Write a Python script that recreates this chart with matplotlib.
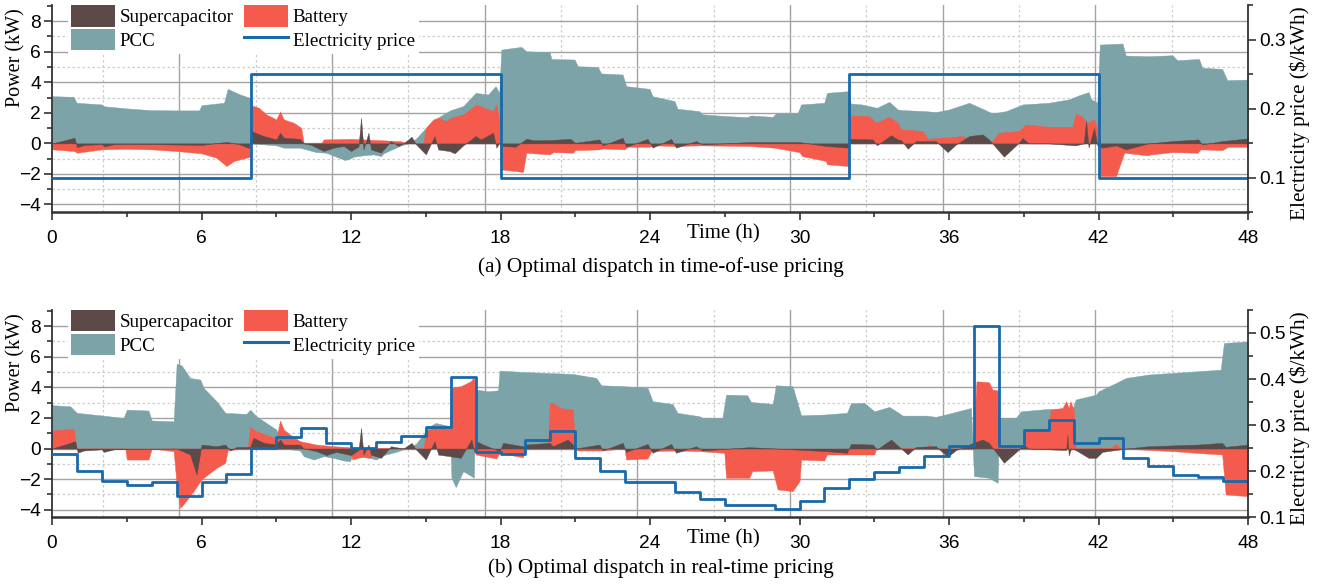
import numpy as np
import matplotlib
matplotlib.use('Agg')
import matplotlib.pyplot as plt
from matplotlib.ticker import MultipleLocator, FixedLocator
from matplotlib.patches import Patch
from matplotlib.lines import Line2D

# ---- (a) time-of-use pricing: (hour, kW) breakpoints ----
tou_pcc = [(0, 3.09), (0.87, 3.05), (0.98, 2.66), (2.0, 2.55), (2.05, 2.44), (3.0, 2.29),
           (3.94, 2.18), (5.1, 2.16), (5.9, 2.16), (6.0, 2.5), (6.9, 2.66), (7.05, 3.57),
           (7.55, 3.2), (7.95, 2.98), (8.0, 0.0), (9.0, -0.13), (9.3, -0.28), (9.95, -0.28),
           (10.6, -0.57), (11.0, -0.61), (11.4, -0.87), (11.75, -1.09), (11.95, -1.0),
           (12.1, -0.87), (12.5, -0.78), (12.9, -0.72), (13.2, -0.83), (13.3, -0.65),
           (13.8, -0.28), (14.0, -0.13), (14.3, 0.0), (14.6, 0.3), (15.0, 1.0), (15.5, 1.7),
           (15.8, 2.0), (16.0, 2.18), (16.5, 2.44), (17.0, 3.31), (17.5, 3.2), (17.8, 3.75),
           (17.95, 3.3), (18.03, 6.14), (18.83, 6.32), (19.03, 6.03), (19.97, 5.97),
           (20.04, 5.53), (20.97, 5.49), (21.1, 5.05), (21.9, 5.01), (22.04, 4.58),
           (22.9, 4.51), (23.04, 3.75), (23.98, 3.57), (24.1, 3.09), (24.98, 2.77),
           (25.1, 2.27), (25.98, 2.11), (26.1, 1.9), (27.05, 1.79), (27.9, 1.72),
           (28.05, 1.83), (28.92, 1.74), (29.05, 1.96), (29.92, 1.96), (30.06, 2.55),
           (30.99, 2.66), (31.1, 3.31), (31.97, 3.42), (32.05, 2.61), (32.5, 2.55),
           (33.1, 2.33), (33.6, 2.72), (33.94, 2.22), (34.14, 2.18), (35.07, 2.11),
           (35.47, 2.05), (36.0, 2.22), (36.8, 2.66), (37.34, 2.27), (37.74, 1.96),
           (38.28, 2.11), (38.95, 2.55), (40.0, 2.66), (40.8, 2.88), (41.2, 3.14),
           (41.6, 3.36), (41.7, 2.9), (41.95, 2.66), (42.05, 6.47), (42.96, 6.54),
           (43.09, 5.75), (44.02, 5.71), (44.96, 5.77), (45.16, 5.45), (46.03, 5.53),
           (46.16, 4.95), (46.96, 4.88), (47.16, 4.14), (48.0, 4.18)]

tou_bat = [(0, -0.39), (0.9, -0.5), (1.0, -0.61), (2.0, -0.39), (3.0, -0.35), (4.0, -0.39),
           (5.0, -0.5), (6.0, -0.65), (6.6, -0.94), (7.0, -1.48), (7.3, -1.15), (7.95, -0.87),
           (8.0, 2.5), (8.3, 2.33), (8.6, 1.9), (9.0, 1.57), (9.15, 2.1), (9.3, 1.57),
           (9.7, 1.35), (10.0, 1.02), (10.1, 0.0), (10.8, 0.0), (10.9, 0.26), (12.0, 0.3),
           (13.3, 0.2), (13.96, 0.15), (14.2, 0.05), (14.5, 0.0), (14.9, 0.0), (15.0, 1.02),
           (15.3, 1.57), (15.5, 1.68), (15.8, 1.46), (16.0, 1.68), (16.5, 1.9), (17.03, 2.55),
           (17.7, 2.1), (17.83, 2.55), (17.94, 1.57), (18.0, -1.7), (18.9, -1.87),
           (19.03, -0.61), (19.97, -0.72), (20.1, -0.57), (20.9, -0.61), (21.0, -0.44),
           (21.97, -0.39), (22.1, -0.33), (22.97, -0.39), (23.1, -0.22), (23.98, -0.22),
           (24.1, -0.13), (25.04, -0.17), (25.98, -0.13), (27.98, -0.17), (28.99, -0.28),
           (29.99, -0.57), (30.1, -0.83), (31.06, -1.15), (31.1, -1.37), (31.95, -1.48),
           (32.0, 1.83), (32.8, 1.79), (33.07, 1.35), (33.6, 1.74), (33.94, 1.35),
           (34.07, 0.92), (34.94, 0.81), (35.14, 0.3), (36.54, 0.48), (36.8, 0.26),
           (37.74, 0.15), (38.0, 0.7), (38.8, 0.81), (39.08, 1.24), (40.0, 1.09),
           (40.95, 1.09), (41.08, 1.96), (41.35, 1.74), (41.55, 1.35), (41.82, 1.57),
           (41.95, 0.92), (42.05, -2.14), (42.7, -2.14), (43.03, -0.61), (43.96, -0.78),
           (44.1, -0.72), (44.96, -0.57), (45.96, -0.61), (46.1, -0.39), (46.96, -0.44),
           (47.2, -0.22), (48.0, -0.22)]

tou_sc = [(0, 0.0), (0.5, 0.2), (0.9, 0.37), (1.0, -0.25), (1.3, -0.1), (2.0, -0.05),
          (2.1, -0.2), (2.5, -0.05), (4.0, -0.05), (6.0, -0.1), (6.5, 0.0), (7.0, 0.1),
          (7.5, -0.05), (7.9, -0.3), (8.0, 0.8), (8.5, 0.48), (9.0, 0.26), (9.15, 0.7),
          (9.3, 0.37), (9.95, 0.3), (10.1, 0.0), (10.4, -0.1), (10.9, -0.5), (11.3, -0.28),
          (11.7, -0.17), (12.0, -0.5), (12.3, -0.2), (12.4, 1.68), (12.5, -0.4), (12.7, 0.7),
          (12.8, -0.4), (13.2, -0.6), (13.6, 0.15), (13.9, -0.17), (14.1, 0.0), (14.43, 0.44),
          (14.6, -0.05), (15.0, -0.72), (15.35, 0.48), (15.5, -0.4), (15.95, -0.5),
          (16.16, -0.65), (16.5, -0.13), (17.0, 0.48), (17.2, 0.26), (17.7, 0.7),
          (17.83, -0.28), (17.96, 0.05), (18.1, -0.17), (18.6, -0.22), (19.03, 0.3),
          (19.4, 0.2), (19.97, 0.22), (20.8, 0.3), (21.0, 0.04), (21.97, 0.26), (22.1, -0.13),
          (22.9, 0.37), (23.04, -0.22), (23.9, 0.3), (24.1, -0.28), (24.85, 0.3),
          (25.04, -0.28), (25.85, 0.15), (26.1, -0.07), (28.0, 0.09), (30.0, 0.09),
          (31.06, -0.17), (31.95, -0.28), (32.0, 0.3), (32.94, 0.26), (33.1, -0.13),
          (33.67, 0.54), (33.94, 0.26), (34.07, 0.22), (34.34, -0.35), (34.67, 0.15),
          (35.47, 0.15), (35.94, -0.57), (36.28, -0.07), (36.8, 0.48), (37.34, 0.59),
          (37.6, 0.26), (38.2, -0.87), (38.8, 0.04), (38.95, 0.35), (39.2, 0.0), (40.0, 0.0),
          (41.08, -0.13), (41.4, 0.0), (41.5, 1.46), (41.6, -0.28), (41.82, 1.02),
          (41.95, -0.13), (42.15, -0.28), (42.7, -0.13), (43.09, -0.39), (44.0, 0.0),
          (44.96, 0.15), (46.0, 0.26), (46.16, -0.07), (46.96, 0.15), (48.0, 0.33)]

tou_price = [0.1] * 8 + [0.25] * 10 + [0.1] * 14 + [0.25] * 10 + [0.1] * 6

# ---- (b) real-time pricing ----
rtp_pcc = [(0, 2.83), (0.73, 2.76), (0.93, 2.43), (1.0, 2.33), (1.94, 2.17), (2.87, 2.0),
           (3.0, 2.54), (3.87, 2.48), (4.0, 1.83), (4.88, 1.78), (5.0, 5.52), (5.2, 5.43),
           (5.54, 4.61), (5.95, 4.5), (6.08, 3.96), (6.6, 3.09), (6.95, 2.33), (7.8, 2.26),
           (7.95, 2.54), (8.2, 2.11), (8.6, 1.67), (9.0, 1.24), (9.3, 0.0), (9.95, -0.13),
           (10.1, -0.5), (10.5, -0.72), (10.9, -0.5), (11.3, -0.61), (11.7, -0.78),
           (11.95, -0.83), (12.05, -0.5), (12.75, -0.61), (13.0, -0.72), (13.3, -0.43),
           (13.8, -0.22), (14.2, 0.0), (14.6, 0.3), (15.16, 1.46), (15.4, 1.67),
           (15.96, 1.46), (16.03, -1.91), (16.2, -2.52), (16.5, -1.48), (16.83, -1.8),
           (16.93, -1.91), (17.0, 3.85), (17.5, 3.74), (17.9, 3.8), (17.96, 5.09),
           (18.9, 5.0), (19.97, 4.93), (20.9, 4.87), (21.84, 4.61), (22.04, 4.13),
           (22.97, 4.07), (23.9, 3.96), (24.1, 3.09), (24.9, 2.91), (25.1, 2.33),
           (25.98, 2.11), (26.1, 2.0), (26.9, 1.96), (27.05, 3.52), (27.9, 3.48),
           (28.05, 3.04), (28.92, 2.91), (29.05, 4.13), (29.72, 4.07), (30.06, 2.17),
           (30.99, 2.22), (31.9, 2.33), (32.06, 2.96), (32.6, 2.98), (33.0, 2.43),
           (33.6, 2.72), (33.94, 2.37), (34.14, 2.15), (35.07, 2.15), (35.47, 2.07),
           (36.0, 2.28), (36.88, 2.65), (37.0, -1.8), (37.6, -1.91), (37.95, -2.24),
           (38.01, 2.0), (38.68, 2.0), (38.88, 2.43), (40.0, 2.59), (40.95, 2.54),
           (41.08, 3.2), (41.9, 3.52), (42.0, 3.74), (42.7, 4.28), (43.1, 4.61), (44.0, 4.83),
           (45.36, 4.98), (46.9, 5.15), (47.03, 6.89), (48.0, 7.0)]

rtp_bat = [(0, 1.17), (0.87, 1.3), (0.97, 0.0), (2.94, 0.0), (3.0, -0.72), (3.87, -0.72),
           (4.0, 0.0), (4.88, -0.17), (5.0, -2.35), (5.14, -3.87), (5.27, -3.65),
           (5.68, -2.78), (5.95, -2.13), (6.08, -1.91), (6.6, -1.26), (6.95, -0.93),
           (7.05, -0.1), (7.85, 0.0), (7.95, 1.39), (8.2, 1.13), (8.75, 0.8), (9.0, 0.65),
           (9.15, 1.83), (9.3, 1.24), (9.55, 0.91), (9.95, 0.48), (10.6, 0.26), (11.3, 0.15),
           (11.95, 0.09), (12.05, -0.72), (12.5, -0.5), (12.75, -0.61), (13.0, -0.13),
           (13.1, 0.05), (14.9, 0.0), (15.03, 1.13), (15.3, 1.35), (15.96, 1.35),
           (16.03, 3.96), (16.4, 4.07), (16.8, 4.39), (16.9, 4.61), (16.96, 4.5),
           (17.0, -0.39), (17.83, -0.65), (17.96, -0.3), (18.9, -0.57), (19.0, 0.0),
           (19.9, 0.05), (19.97, 2.98), (20.1, 2.98), (20.4, 2.65), (20.9, 2.54), (21.0, 0.0),
           (21.1, -0.13), (22.04, -0.13), (22.97, 0.0), (23.04, -0.72), (23.9, -0.65),
           (24.05, -0.17), (25.04, -0.13), (25.98, -0.17), (26.98, -0.28), (27.05, -1.91),
           (27.98, -1.91), (28.1, -1.48), (28.92, -1.43), (29.12, -2.67), (29.72, -2.78),
           (30.0, -2.13), (30.06, -0.72), (30.99, -0.78), (31.1, -0.39), (33.0, -0.39),
           (33.07, 0.0), (35.0, 0.05), (35.2, 0.26), (35.4, 0.0), (36.95, 0.0), (37.1, 4.39),
           (37.6, 4.33), (37.74, 3.85), (37.95, 3.8), (38.0, 0.0), (39.0, 0.0), (39.08, 1.24),
           (40.0, 1.24), (40.08, 2.54), (40.55, 2.65), (40.7, 3.09), (40.8, 2.65),
           (40.87, 3.09), (41.0, 2.54), (41.08, 0.0), (42.5, 0.05), (42.7, 0.3), (42.9, 0.0),
           (45.0, -0.17), (45.9, -0.28), (46.96, -0.39), (47.1, -3.0), (48.0, -3.11)]

rtp_sc = [(0, 0.0), (0.73, 0.37), (0.93, 0.48), (1.03, -0.28), (1.27, -0.13), (2.0, -0.05),
          (2.07, -0.22), (2.5, -0.05), (5.0, 0.0), (5.54, -0.39), (5.8, -1.7), (6.0, 0.26),
          (6.6, 0.15), (6.95, 0.26), (7.15, -0.13), (7.4, 0.1), (7.95, 0.1), (8.08, 0.7),
          (8.5, 0.37), (9.0, 0.26), (9.15, 0.59), (9.3, 0.26), (9.95, 0.26), (10.1, 0.0),
          (10.6, -0.17), (11.0, -0.43), (11.4, -0.22), (12.0, -0.43), (12.3, -0.1),
          (12.4, 1.35), (12.5, -0.4), (12.7, 0.26), (12.8, -0.4), (13.2, -0.61), (13.6, 0.15),
          (14.1, 0.0), (14.43, 0.37), (14.6, -0.05), (15.0, -0.72), (15.35, 0.48),
          (15.5, -0.4), (15.96, -0.5), (16.4, -0.61), (16.83, 0.59), (16.96, -0.28),
          (17.03, 0.48), (17.3, 0.26), (17.96, -0.17), (18.1, 0.37), (18.9, 0.15),
          (19.03, 0.26), (19.97, 0.37), (20.1, 0.15), (20.7, 0.59), (20.9, 0.26), (21.0, 0.0),
          (21.97, 0.26), (22.1, -0.13), (22.9, 0.37), (23.04, -0.22), (23.9, 0.3),
          (24.1, -0.28), (24.85, 0.3), (25.04, -0.28), (25.85, 0.15), (26.1, -0.13),
          (28.0, 0.09), (31.06, -0.17), (31.9, -0.28), (32.06, 0.3), (32.94, 0.26),
          (33.1, -0.07), (33.67, 0.59), (33.94, 0.2), (34.34, -0.39), (34.67, 0.11),
          (35.47, 0.15), (35.94, -0.54), (36.28, -0.1), (36.8, 0.26), (37.34, 0.59),
          (37.6, 0.37), (38.2, -0.93), (38.8, -0.07), (38.95, 0.26), (39.2, 0.0),
          (40.7, -0.1), (40.75, 0.91), (40.8, -0.45), (40.9, 0.0), (41.08, -0.1),
          (41.6, -0.61), (41.9, -0.61), (42.15, -0.22), (43.1, 0.0), (44.0, 0.15),
          (46.0, 0.26), (46.96, 0.37), (47.1, 0.11), (48.0, 0.26)]

rtp_price = [0.238, 0.200, 0.178, 0.171, 0.176, 0.146, 0.176, 0.194,
             0.251, 0.275, 0.295, 0.262, 0.250, 0.263, 0.277, 0.297,
             0.404, 0.242, 0.238, 0.269, 0.287, 0.228, 0.200, 0.176,
             0.176, 0.156, 0.139, 0.126, 0.126, 0.119, 0.135, 0.163,
             0.183, 0.198, 0.209, 0.233, 0.255, 0.516, 0.255, 0.290,
             0.312, 0.262, 0.272, 0.228, 0.212, 0.193, 0.188, 0.179]

C_PCC = '#7ba3a8'
C_BAT = '#f45b4c'
C_SC = '#5c4a48'
C_PRICE = '#1769ab'
SERIF = 'Liberation Serif'
DARK = '#333333'

plt.rcParams['font.family'] = 'Liberation Sans'
plt.rcParams['font.size'] = 13.8

fig = plt.figure(figsize=(13.21, 5.86), dpi=100)


def draw_panel(rect, pcc, bat, sc, price, plim, caption, cap_y):
    # background axes only for the grid (offset grid like the original)
    bg = fig.add_axes(rect, zorder=0)
    bg.set_xlim(1, 48)
    bg.set_ylim(-4.5, 9.05)
    bg.xaxis.set_major_locator(MultipleLocator(6))
    bg.xaxis.set_minor_locator(MultipleLocator(3))
    bg.yaxis.set_major_locator(MultipleLocator(2))
    bg.yaxis.set_minor_locator(FixedLocator([-3, -1, 1, 3, 5, 7]))
    bg.grid(which='major', color='#a3a3a3', lw=1.0)
    bg.grid(which='minor', color='#cccccc', lw=0.9, ls=(0, (2, 2)))
    bg.tick_params(which='both', length=0, labelbottom=False, labelleft=False)
    for s in bg.spines.values():
        s.set_visible(False)

    ax = fig.add_axes(rect, zorder=1)
    ax.patch.set_visible(False)
    for series, col in ((pcc, C_PCC), (bat, C_BAT), (sc, C_SC)):
        t, v = (np.array(a) for a in zip(*series))
        ax.fill_between(t, 0, v, facecolor=col, edgecolor=col, lw=0.3)
    ax.set_xlim(0, 48)
    ax.set_ylim(-4.5, 9.05)
    ax.xaxis.set_major_locator(MultipleLocator(6))
    ax.xaxis.set_minor_locator(MultipleLocator(3))
    ax.yaxis.set_major_locator(MultipleLocator(2))
    ax.yaxis.set_minor_locator(MultipleLocator(1))
    ax.tick_params(which='both', direction='out', color=DARK, width=1.2)
    ax.tick_params(which='major', length=6)
    ax.tick_params(which='minor', length=3.5)
    ax.tick_params(axis='y', pad=2)
    ax.tick_params(axis='x', pad=7)
    for s in ('top', 'right'):
        ax.spines[s].set_visible(False)
    ax.spines['bottom'].set_linewidth(1.8)
    ax.spines['left'].set_linewidth(1.3)
    for s in ('bottom', 'left'):
        ax.spines[s].set_color(DARK)
    ax.set_ylabel('Power (kW)', fontfamily=SERIF, fontsize=14.5)
    ax.yaxis.set_label_coords(-0.022, 0.747)
    ax.set_xlabel('Time (h)', fontfamily=SERIF, fontsize=15)
    ax.xaxis.set_label_coords(0.561, -0.058)

    ax2 = ax.twinx()
    ax2.set_zorder(2)
    ax2.patch.set_visible(False)
    hours = np.arange(len(price) + 1)
    ax2.step(hours, list(price) + [price[-1]], where='post', color=C_PRICE, lw=2.0)
    ax2.set_ylim(*plim)
    ax2.yaxis.set_major_locator(MultipleLocator(0.1))
    ax2.yaxis.set_minor_locator(MultipleLocator(0.05))
    ax2.tick_params(which='both', direction='out', color=DARK, width=1.2, pad=2)
    ax2.tick_params(which='major', length=6)
    ax2.tick_params(which='minor', length=3.5)
    for s in ('top', 'left', 'bottom'):
        ax2.spines[s].set_visible(False)
    ax2.spines['right'].set_color(DARK)
    ax2.spines['right'].set_linewidth(1.3)
    ax2.set_ylabel('Electricity price ($/kWh)', fontfamily=SERIF, fontsize=15.3)
    ax2.yaxis.set_label_coords(1.035, 0.48)

    handles = [Patch(facecolor=C_SC, label='Supercapacitor'),
               Patch(facecolor=C_PCC, label='PCC'),
               Patch(facecolor=C_BAT, label='Battery'),
               Line2D([], [], color=C_PRICE, lw=2.2, label='Electricity price')]
    ax2.legend(handles=handles, ncol=2, loc='upper left',
               bbox_to_anchor=(0.013, 1.018), borderaxespad=0, borderpad=0.2,
               frameon=True, fancybox=False, facecolor='white', edgecolor='none',
               framealpha=1, handlelength=2.3, handleheight=1.35, handletextpad=0.25,
               labelspacing=0.12, columnspacing=0.55,
               prop={'family': SERIF, 'size': 13.7})

    fig.text(0.5, cap_y, caption, ha='center', va='center', fontfamily=SERIF, fontsize=15.3)


draw_panel([0.0394, 0.638, 0.9054, 0.3532], tou_pcc, tou_bat, tou_sc, tou_price,
           (0.05, 0.35), '(a) Optimal dispatch in time-of-use pricing', 0.545)
draw_panel([0.0394, 0.117, 0.9054, 0.3541], rtp_pcc, rtp_bat, rtp_sc, rtp_price,
           (0.1, 0.55), '(b) Optimal dispatch in real-time pricing', 0.031)

fig.savefig('out.png', dpi=100)
